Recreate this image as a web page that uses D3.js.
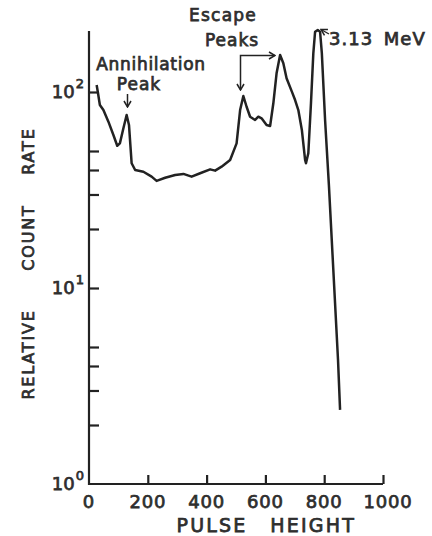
<!DOCTYPE html>
<html>
<head>
<meta charset="utf-8">
<script src="https://cdn.jsdelivr.net/npm/d3@7/dist/d3.min.js"></script>
<style>
  html, body { margin: 0; padding: 0; background: #fff; }
  svg { display: block; }
  text { font-family: "DejaVu Sans", sans-serif; fill: #2e2e2e; stroke: #2e2e2e; stroke-width: 0.75px; }
</style>
</head>
<body>
<svg id="chart" width="432" height="536"></svg>
<script>
// Pulse height (channel) values
const pulseHeight = [26, 30, 37, 49, 66, 83, 96, 105, 117, 128, 136, 145, 157, 185, 213, 230, 259, 293, 321, 349, 378, 412, 429, 451, 480, 502, 514, 525, 536, 548, 565, 576, 587, 604, 616, 627, 638, 650, 661, 672, 690, 701, 712, 724, 735, 738, 746, 755, 763, 769, 778, 786, 792, 803, 816, 847, 854];
// Relative count rate at each pulse height
const countRate = [108.6, 100, 85.9, 80.9, 70.6, 60.3, 53.2, 54.7, 65.3, 76.3, 67.9, 43.3, 40.0, 39.2, 37.0, 35.2, 36.5, 37.7, 38.2, 37.0, 38.5, 40.3, 39.7, 41.6, 45.0, 54.7, 80.9, 95.4, 84.1, 74.8, 72.0, 74.8, 73.4, 67.9, 67.1, 87.6, 124.6, 154.4, 140.1, 117.5, 100.4, 91.0, 80.9, 64.0, 45.0, 43.3, 48.7, 87.6, 157.5, 203, 207, 203, 157.5, 72.0, 33.5, 4.29, 2.39];

const xTickValues = [0, 200, 400, 600, 800, 1000];
const xTickLabels = ["0", "200", "400", "600", "800", "1000"];
const yMinorTicks = [2, 3, 4, 5, 10, 20, 30, 40, 50, 100];
const yLabelValues = [1, 10, 100];
const yLabelExponents = ["0", "1", "2"];

const svg = d3.select("#chart");
const x = d3.scaleLinear().domain([0, 1000]).range([89, 383]);
const y = d3.scaleLog().domain([1, 100]).range([484, 92]);
const yTop = 205;
const ink = "#222";

// Axis lines
svg.append("line").attr("x1", x(0)).attr("x2", x(0)).attr("y1", y(1) + 1).attr("y2", y(yTop))
  .attr("stroke", ink).attr("stroke-width", 2.2);
svg.append("line").attr("x1", x(0)).attr("x2", x(1000)).attr("y1", y(1)).attr("y2", y(1))
  .attr("stroke", ink).attr("stroke-width", 2.2);

// Y ticks (inward)
const yAxis = svg.append("g").attr("transform", `translate(${x(0)},0)`)
  .call(d3.axisRight(y).tickValues(yMinorTicks).tickSize(10).tickFormat(""));
yAxis.select(".domain").remove();
yAxis.selectAll("line").attr("stroke", ink).attr("stroke-width", 2.2);

// X ticks (inward / upward)
const xAxis = svg.append("g").attr("transform", `translate(0,${y(1)})`)
  .call(d3.axisTop(x).tickValues(xTickValues.slice(1)).tickSize(9).tickFormat(""));
xAxis.select(".domain").remove();
xAxis.selectAll("line").attr("stroke", ink).attr("stroke-width", 2.2);

// X tick labels
svg.selectAll(".xlab").data(xTickValues).enter().append("text")
  .attr("x", (d, i) => x(d) + (i === xTickValues.length - 1 ? 5 : 0)).attr("y", y(1) + 24)
  .attr("text-anchor", "middle").attr("font-size", 18).attr("letter-spacing", 0.8)
  .text((d, i) => xTickLabels[i]);

// Y tick labels 10^n
yLabelValues.forEach((v, i) => {
  const t = svg.append("text").attr("x", 84).attr("y", y(v) + 6)
    .attr("text-anchor", "end").attr("font-size", 18);
  t.append("tspan").text("10");
  t.append("tspan").attr("dy", -10).attr("dx", 1).attr("font-size", 13).text(yLabelExponents[i]);
});

// Axis titles
const xt = svg.append("text").attr("y", 532).attr("text-anchor", "middle")
  .attr("font-size", 19).attr("letter-spacing", 2.2);
xt.append("tspan").attr("x", 212).text("PULSE");
xt.append("tspan").attr("x", 309).text(" HEIGHT");

const yt = svg.append("text").attr("transform", "translate(33.5,267) rotate(-90)")
  .attr("text-anchor", "middle").attr("font-size", 16).attr("letter-spacing", 1.8);
yt.append("tspan").attr("x", -87.5).text("RELATIVE");
yt.append("tspan").attr("x", 26).text(" COUNT");
yt.append("tspan").attr("x", 112.5).text(" RATE");

// Data curve
const line = d3.line().x(d => x(d[0])).y(d => y(d[1]));
svg.append("path").datum(pulseHeight.map((p, i) => [p, countRate[i]]))
  .attr("d", line).attr("fill", "none").attr("stroke", ink)
  .attr("stroke-width", 2.5).attr("stroke-linejoin", "round");

// Arrow marker
const defs = svg.append("defs");
defs.append("marker").attr("id", "arr").attr("viewBox", "-1 -5 8 10")
  .attr("refX", 6).attr("refY", 0).attr("markerWidth", 8).attr("markerHeight", 10)
  .attr("markerUnits", "userSpaceOnUse").attr("orient", "auto-start-reverse")
  .append("path").attr("d", "M0,-3.5 L6,0 L0,3.5").attr("fill", "none")
  .attr("stroke", ink).attr("stroke-width", 1.5);

// Annotations
svg.append("text").attr("x", 151).attr("y", 70).attr("text-anchor", "middle")
  .attr("font-size", 17).attr("letter-spacing", 0.7).text("Annihilation");
svg.append("text").attr("x", 139).attr("y", 90).attr("text-anchor", "middle")
  .attr("font-size", 17).attr("letter-spacing", 1).text("Peak");
svg.append("line").attr("x1", 127.5).attr("y1", 94).attr("x2", 127.5).attr("y2", 107)
  .attr("stroke", ink).attr("stroke-width", 1.5).attr("marker-end", "url(#arr)");

svg.append("text").attr("x", 223).attr("y", 20.5).attr("text-anchor", "middle")
  .attr("font-size", 17).attr("letter-spacing", 1.2).text("Escape");
svg.append("text").attr("x", 232).attr("y", 46).attr("text-anchor", "middle")
  .attr("font-size", 17).attr("letter-spacing", 1).text("Peaks");
svg.append("path").attr("d", "M240.5,90 L240.5,55.5 L275,55.5").attr("fill", "none")
  .attr("stroke", ink).attr("stroke-width", 1.5)
  .attr("marker-start", "url(#arr)").attr("marker-end", "url(#arr)");

svg.append("text").attr("x", 329).attr("y", 45).attr("font-size", 18)
  .attr("letter-spacing", 1).attr("word-spacing", 4).text("3.13 MeV");
svg.append("line").attr("x1", 329).attr("y1", 34).attr("x2", 321).attr("y2", 29.5)
  .attr("stroke", ink).attr("stroke-width", 1.4).attr("marker-end", "url(#arr)");
</script>
</body>
</html>
